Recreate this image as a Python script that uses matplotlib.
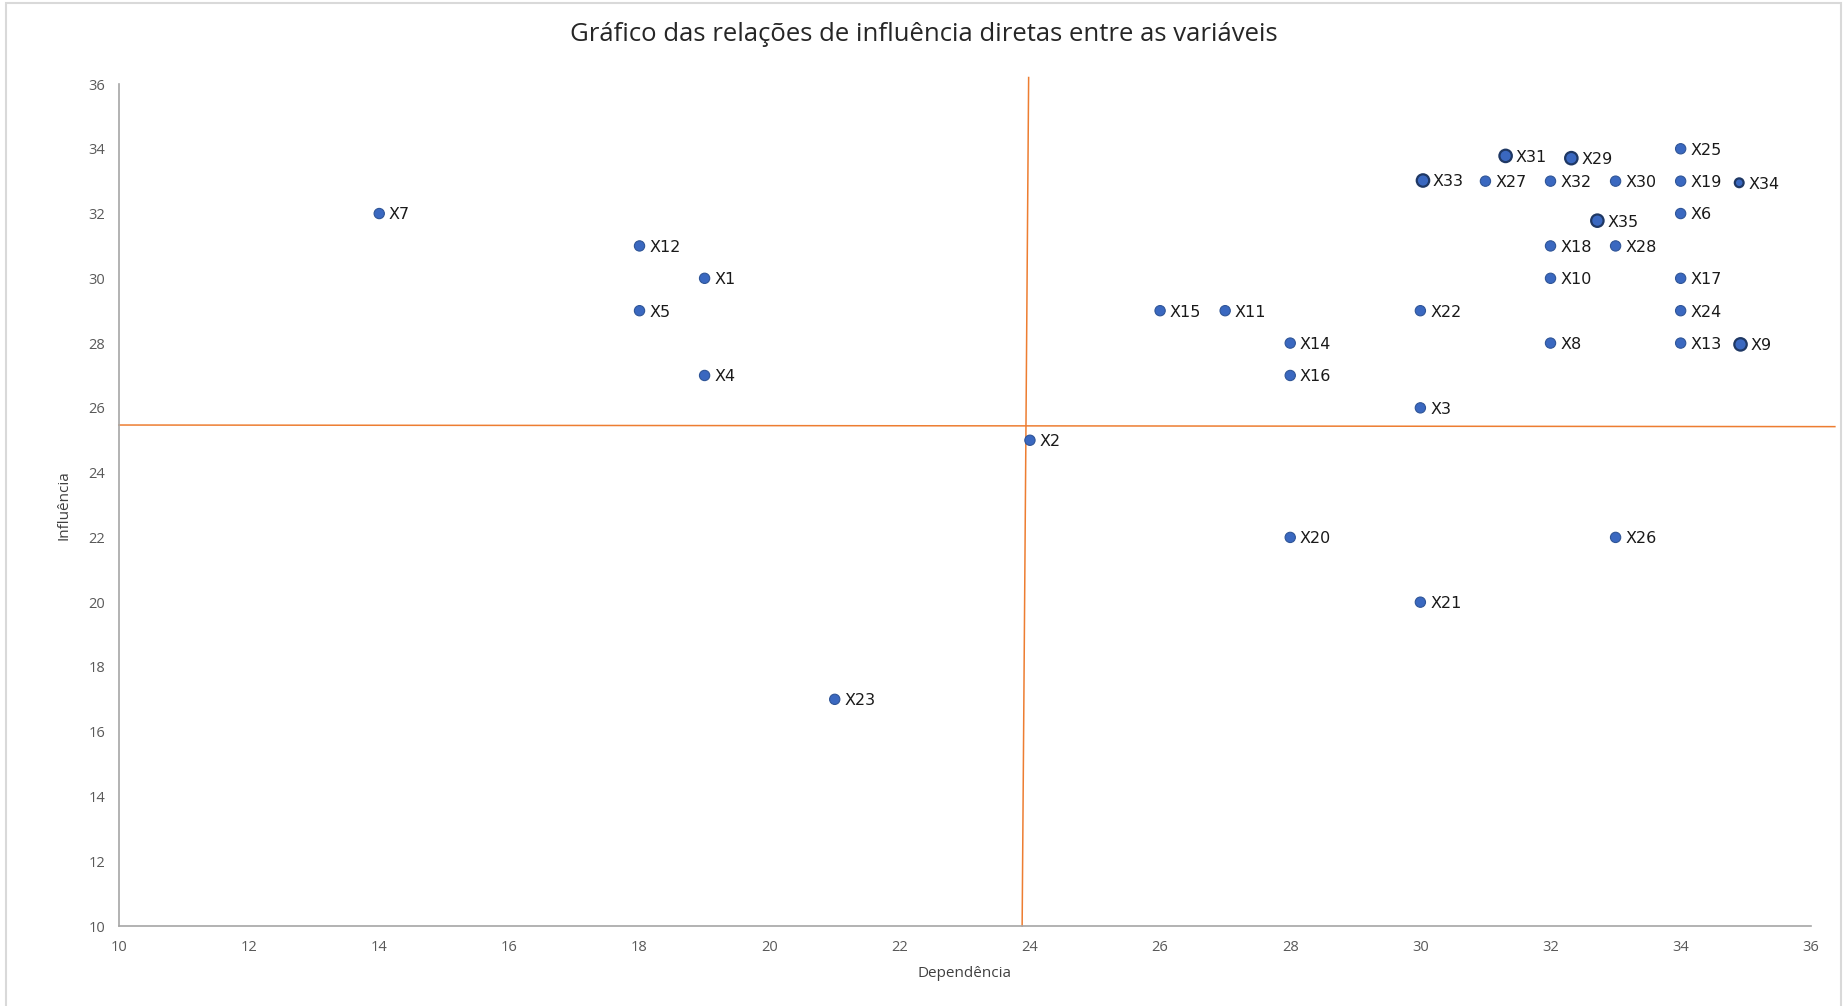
import matplotlib
matplotlib.use("Agg")
import matplotlib.pyplot as plt
from matplotlib.patches import Rectangle

plt.rcParams['font.family'] = ['Open Sans', 'DejaVu Sans']

labels = ["X7", "X12", "X1", "X5", "X4", "X23", "X2", "X15", "X11", "X14", "X16", "X20",
          "X22", "X3", "X21", "X33", "X31", "X29", "X27", "X32", "X30", "X19", "X34", "X25",
          "X6", "X35", "X18", "X28", "X10", "X17", "X24", "X8", "X13", "X9", "X26"]
dependencia = [14, 18, 19, 18, 19, 21, 24, 26, 27, 28, 28, 28,
               30, 30, 30, 30.04, 31.31, 32.32, 31, 32, 33, 34, 34.9, 34,
               34, 32.72, 32, 33, 32, 34, 34, 32, 34, 34.92, 33]
influencia = [32, 31, 30, 29, 27, 17, 25, 29, 29, 28, 27, 22,
              29, 26, 20, 33.02, 33.78, 33.71, 33, 33, 33, 33, 32.95, 34,
              32, 31.78, 31, 31, 30, 30, 29, 28, 28, 27.96, 22]
emphasis = ["X33", "X31", "X29", "X35", "X9"]
small = ["X34"]

ref_x = [23.98, 23.88]
ref_x_y = [36.2, 10]
ref_y_x = [10, 36.37]
ref_y = [25.47, 25.42]

fig = plt.figure(figsize=(18.47, 10.06), dpi=100)
ax = fig.add_axes([0.0644, 0.0795, 0.916, 0.837])

sizes = [80 if l in emphasis else (40 if l in small else 55) for l in labels]
edges = ["#1f3864" if (l in emphasis or l in small) else "#2f5597" for l in labels]
lws = [1.6 if (l in emphasis or l in small) else 0.8 for l in labels]
ax.scatter(dependencia, influencia, s=sizes, c="#3a68c0", edgecolors=edges,
           linewidths=lws, zorder=3)
for x, y, l in zip(dependencia, influencia, labels):
    ax.annotate(l, (x, y), xytext=(7, -1), textcoords="offset points",
                ha="left", va="center", fontsize=11.5, color="#1a1a1a",
                family=['DejaVu Sans'])

ax.plot(ref_x, ref_x_y, color="#ed7d31", lw=1.1, clip_on=False, zorder=2)
ax.plot(ref_y_x, ref_y, color="#ed7d31", lw=1.1, clip_on=False, zorder=2)

ax.set_xlim(10, 36)
ax.set_ylim(10, 36)
ax.set_xticks(range(10, 37, 2))
ax.set_yticks(range(10, 37, 2))
ax.tick_params(length=0, labelsize=10.5, colors="#595959", pad=10)
for s in ["top", "right"]:
    ax.spines[s].set_visible(False)
for s in ["left", "bottom"]:
    ax.spines[s].set_color("#a6a6a6")
    ax.spines[s].set_linewidth(1.2)

ax.set_xlabel("Dependência", fontsize=11, color="#404040", labelpad=8)
ax.set_ylabel("Influência", fontsize=11, color="#404040", labelpad=12)
fig.text(0.5, 0.966, "Gráfico das relações de influência diretas entre as variáveis",
         ha="center", va="center", fontsize=18.5, color="#262626")

fig.patches.append(Rectangle((0.003, -0.01), 0.994, 1.007, transform=fig.transFigure,
                             fill=False, edgecolor="#d9d9d9", lw=1.5))

fig.savefig("out.png", dpi=100)
